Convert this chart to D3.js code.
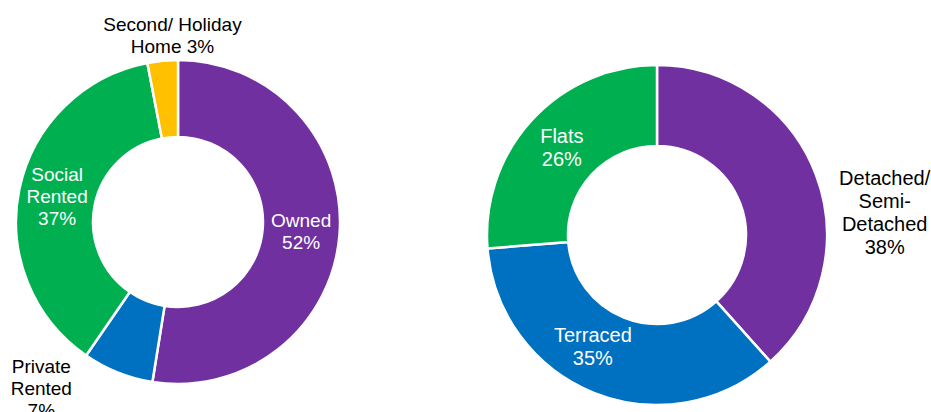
<!DOCTYPE html>
<html>
<head>
<meta charset="utf-8">
<script src="https://cdn.jsdelivr.net/npm/d3@7"></script>
<style>
  html, body { margin: 0; padding: 0; background: #ffffff; }
  svg { display: block; }
</style>
</head>
<body>
<svg id="chart" width="931" height="412"></svg>
<script>
// ---- Data ----
const tenureCategories = ["Owned", "Private Rented", "Social Rented", "Second/ Holiday Home"];
const tenureValues = [52, 7, 37, 3];
const tenureLabelLines = [["Owned", "52%"], ["Private", "Rented", "7%"], ["Social", "Rented", "37%"], ["Second/ Holiday", "Home 3%"]];

const typeCategories = ["Detached/ Semi-Detached", "Terraced", "Flats"];
const typeValues = [38, 35, 26];
const typeLabelLines = [["Detached/", "Semi-", "Detached", "38%"], ["Terraced", "35%"], ["Flats", "26%"]];

// ---- Styles / layout ----
const colorsTenure = ["#7030A0", "#0070C0", "#00B050", "#FFC000"];
const colorsType = ["#7030A0", "#0070C0", "#00B050"];

const charts = [
  {
    cats: tenureCategories, vals: tenureValues, lines: tenureLabelLines, colors: colorsTenure,
    cx: 178, cy: 222, inner: 85, outer: 162, fontSize: 19, lineH: 22,
    // label placement: "in" = centroid + nudge, "out" = offset from centre
    place: [
      { mode: "in", dx: 0, dy: 0, fill: "#ffffff" },
      { mode: "out", dx: -136.7, dy: 166.4, fill: "#000000" },
      { mode: "in", dx: 0, dy: 0, fill: "#ffffff" },
      { mode: "out", dx: -5.5, dy: -186.5, fill: "#000000" }
    ]
  },
  {
    cats: typeCategories, vals: typeValues, lines: typeLabelLines, colors: colorsType,
    cx: 657, cy: 235, inner: 89, outer: 170, fontSize: 20, lineH: 23,
    place: [
      { mode: "out", dx: 227.7, dy: -22.3, fill: "#000000" },
      { mode: "in", dx: -16, dy: -9, fill: "#ffffff" },
      { mode: "in", dx: 0, dy: 0, fill: "#ffffff" }
    ]
  }
];

const svg = d3.select("#chart");

charts.forEach(c => {
  const g = svg.append("g").attr("transform", `translate(${c.cx},${c.cy})`);
  const pie = d3.pie().sort(null).value(d => d.v).startAngle(0).endAngle(2 * Math.PI);
  const data = c.cats.map((name, i) => ({ name, v: c.vals[i], i }));
  const arcs = pie(data);
  const arc = d3.arc().innerRadius(c.inner).outerRadius(c.outer);

  g.selectAll("path.slice")
    .data(arcs)
    .join("path")
    .attr("class", "slice")
    .attr("d", arc)
    .attr("fill", d => c.colors[d.data.i])
    .attr("stroke", "#ffffff")
    .attr("stroke-width", 2.5)
    .attr("stroke-linejoin", "miter");

  arcs.forEach(a => {
    const p = c.place[a.data.i];
    let x, y;
    if (p.mode === "in") {
      const cen = arc.centroid(a);
      x = cen[0] + p.dx; y = cen[1] + p.dy;
    } else {
      x = p.dx; y = p.dy;
    }
    const lines = c.lines[a.data.i];
    const firstBase = y - ((lines.length - 1) * c.lineH) / 2 + 0.35 * c.fontSize;
    const t = g.append("text")
      .attr("text-anchor", "middle")
      .attr("font-family", "'Liberation Sans', Arial, sans-serif")
      .attr("font-size", c.fontSize)
      .attr("fill", p.fill);
    lines.forEach((ln, k) => {
      t.append("tspan").attr("x", x).attr("y", firstBase + k * c.lineH).text(ln);
    });
  });
});
</script>
</body>
</html>
